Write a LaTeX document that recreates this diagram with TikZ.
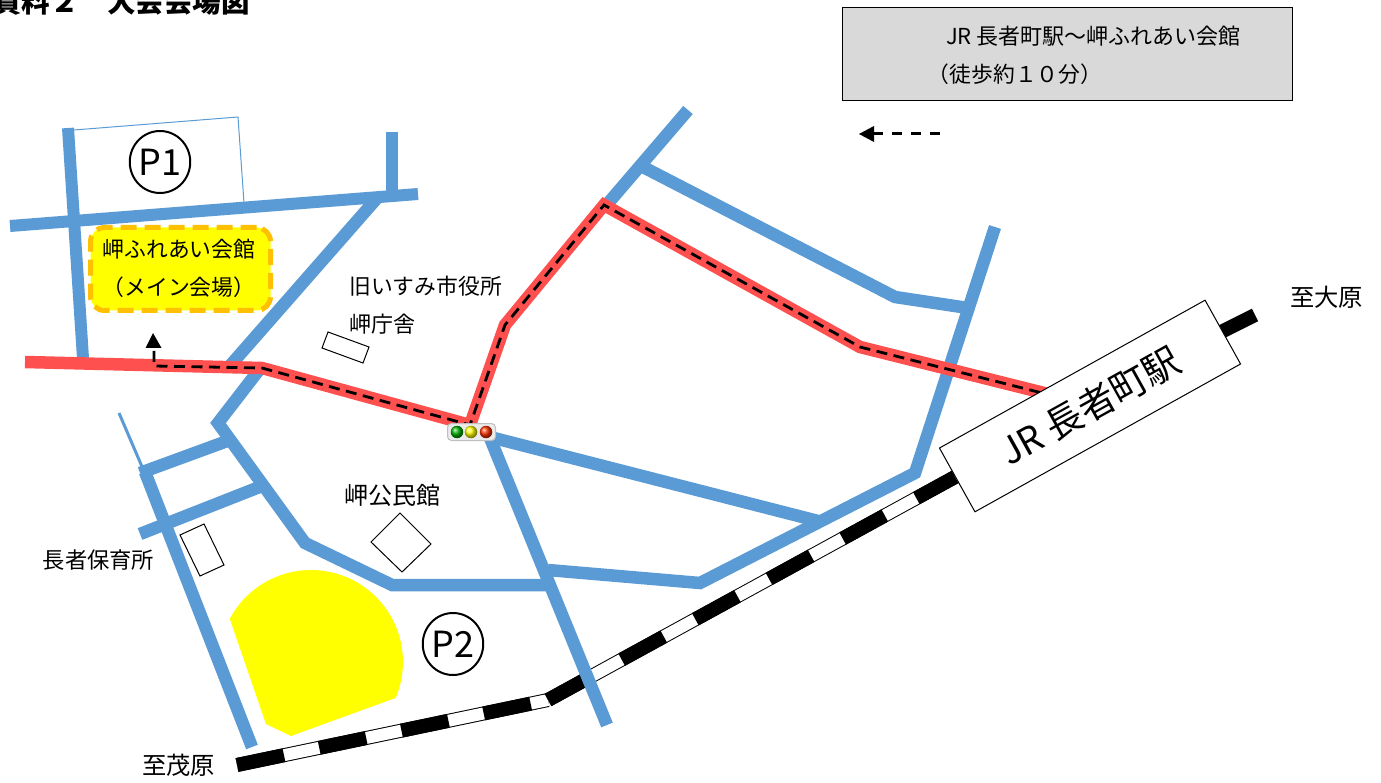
\documentclass[tikz,border=0pt]{standalone}
\usepackage{fontspec}
\setmainfont{Noto Sans CJK JP}
\definecolor{road}{HTML}{5B9BD5}
\definecolor{redroad}{HTML}{FF5050}
\definecolor{amber}{HTML}{FFC000}
\definecolor{boxgrey}{HTML}{D9D9D9}
\definecolor{pureyellow}{rgb}{1,1,0}
\tikzset{
  roadline/.style={draw=road,line width=12.5pt,line join=miter},
  thinroad/.style={draw=road,line width=1pt},
  redline/.style={draw=redroad,line width=12.5pt,line join=miter},
  routedash/.style={draw=black,line width=2.8pt,dash pattern=on 11pt off 6.5pt},
  legenddash/.style={draw=black,line width=3pt,dash pattern=on 10pt off 9pt},
  bldg/.style={draw=black,line width=1pt,fill=white},
  lbl/.style={inner sep=0pt,font=\fontsize{#1}{#1}\selectfont},
  lbl/.default=22,
  railblack/.style={draw=black,line width=14pt},
  railwhite/.style={draw=white,line width=12pt},
  raildash/.style={draw=black,line width=14pt,dash pattern=on 48pt off 36pt},
  parking/.style={draw=black,line width=2pt,ellipse,minimum width=58pt,minimum height=62pt,inner sep=0pt,font=\fontsize{36}{36}\selectfont},
  lamp/.style={circle,minimum size=12.5pt,inner sep=0pt,shading=ball,ball color=#1}
}
\usetikzlibrary{shapes.geometric}
\begin{document}
\begin{tikzpicture}[x=1pt,y=-1pt]
\useasboundingbox (0,0) rectangle (1381,783);
\clip (0,0) rectangle (1381,783);
% title
\node[lbl=28.5,anchor=east,font=\bfseries\fontsize{28.5}{28.5}\selectfont] (title) at (250,2) {資料２　大会会場図};
% info box
\node[draw=black,line width=1pt,fill=boxgrey,minimum width=450pt,minimum height=93pt,inner sep=0pt] (info) at (1067,54.5) {};
\node[lbl=22] (infoa) at (1093.5,36) {JR 長者町駅～岬ふれあい会館};
\node[lbl=21.8] (infob) at (1015,74) {（徒歩約１０分）};
% legend arrow
\coordinate (la) at (940,134);
\coordinate (lb) at (872,134);
\draw[legenddash] (la) -- (lb);
\fill (859,134) -- (874,126) -- (874,142) -- cycle;
% rail
\coordinate (r0) at (237,765);
\coordinate (r1) at (548,700);
\coordinate (r2) at (955,477);
\coordinate (r3) at (1205,340);
\coordinate (r4) at (1255,315);
\draw[railblack] (r0) -- (r1);
\draw[railwhite] (r0) -- (r1);
\draw[raildash] (r0) -- (r1);
\draw[railblack] (r1) -- (r2);
\draw[railwhite] (r1) -- (r2);
\draw[raildash] (r1) -- (r2);
\draw[railblack] (r3) -- (r4);
% thin roads
\draw[thinroad] (74,130) -- (238,117) -- (244,203);
\draw[draw=road,line width=3pt] (119,413) -- (146,476);
% roads
\draw[roadline,line width=12pt] (68,128) -- (83,358);
\draw[roadline,line width=12pt] (10,226) -- (418,194);
\draw[roadline,line width=12pt] (392,132) -- (392,197);
\draw[roadline] (378,197) -- (228,368);
\draw[roadline] (262,366) -- (218,423) -- (305,543) -- (392,585) -- (552,585);
\draw[roadline] (140,473) -- (230,440);
\draw[roadline] (140,534) -- (262,486);
\draw[roadline] (145,472) -- (252,747);
\draw[roadline] (688,110) -- (604,208);
\draw[roadline] (643,167) -- (895,297) -- (968,308);
\draw[roadline] (995,227) -- (915,473) -- (700,583) -- (548,570);
\draw[roadline] (490,437) -- (818,521);
\draw[roadline] (490,438) -- (607,725);
% red route
\draw[redline] (25,362) -- (262,368) -- (470,425) -- (505,325) -- (604,205) -- (860,347) -- (1060,397);
\draw[routedash] (154,351) -- (154,366) -- (262,368) -- (470,425) -- (505,325) -- (604,205) -- (860,347) -- (1050,395);
\fill (153,333) -- (145.5,348) -- (161.5,348) -- cycle;
% station
\node[draw=black,line width=1pt,fill=white,minimum width=304pt,minimum height=73pt,inner sep=0pt,rotate=29.1,font=\fontsize{37}{37}\selectfont] (station) at (1090,406) {JR 長者町駅};
% main venue
\node[draw=amber,fill=pureyellow,line width=5pt,dash pattern=on 16pt off 8pt,rounded corners=14pt,minimum width=180pt,minimum height=83pt,inner sep=0pt] (venue) at (180.5,269) {};
\node[lbl=21.8] (venuea) at (179,249) {岬ふれあい会館};
\node[lbl=21.8] (venueb) at (179,287) {（メイン会場）};
% buildings
\draw[bldg] (328,332) -- (369,347) -- (363,363) -- (322,348) -- cycle;
\draw[bldg] (400,513) -- (431,544) -- (402,572) -- (371,542) -- cycle;
\draw[bldg] (180,535) -- (204,524) -- (224,565) -- (200,576) -- cycle;
% field
\fill[pureyellow] plot[domain=152:-23,samples=60] ({311+92*cos(\x)},{662-92*sin(\x)}) -- (291,736) -- (266,724) -- cycle;
% parking
\node[parking] (p1) at (160,162) {P1};
\node[parking] (p2) at (453,644) {P2};
% labels
\node[lbl=21.8] (l1) at (425.5,286) {旧いすみ市役所};
\node[lbl=22] (l2) at (382,324) {岬庁舎};
\node[lbl=24] (l3) at (392.5,495) {岬公民館};
\node[lbl=22.3] (l4) at (98.5,560) {長者保育所};
\node[lbl=24.3] (l5) at (1326.5,297) {至大原};
\node[lbl=24.3] (l6) at (178.5,765) {至茂原};
% traffic light
\node[draw=black!25,fill=black!8,line width=1pt,rounded corners=4pt,minimum width=48pt,minimum height=17pt,inner sep=0pt] (tl) at (471.5,432) {};
\node[lamp=green!70!black] (tg) at (457,432) {};
\node[lamp=pureyellow] (ty) at (471,432) {};
\node[lamp=orange!40!red] (tr) at (486,432) {};
\end{tikzpicture}
\end{document}
